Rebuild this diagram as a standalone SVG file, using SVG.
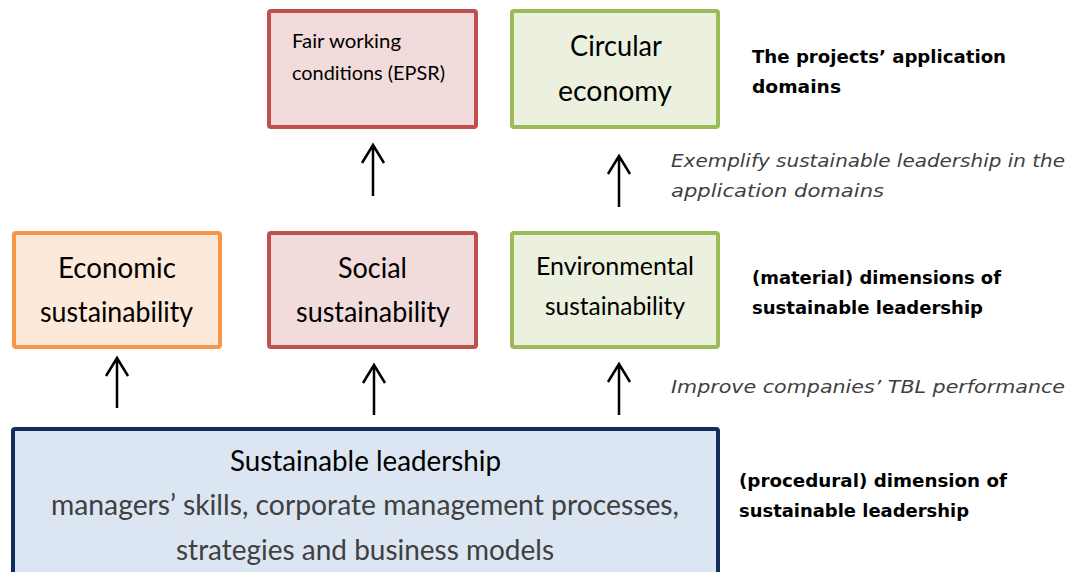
<svg xmlns="http://www.w3.org/2000/svg" width="1068" height="572" viewBox="0 0 1068 572">
  <style>
    .box { stroke-width: 4; }
    .red { fill: #f2dcdb; stroke: #c0504d; }
    .green { fill: #ebf1de; stroke: #9bbb59; }
    .orange { fill: #fde9d9; stroke: #f79646; }
    .blue { fill: #dce6f2; stroke: #132d5c; }
    .lbl { font-family: Lato, "Open Sans", "Liberation Sans", sans-serif; fill: #000; }
    .big { font-size: 28px; }
    .mid { font-size: 25px; }
    .sml { font-size: 20px; }
    .sub { fill: #404040; }
    .note { font-family: "DejaVu Sans", "Liberation Sans", sans-serif; font-size: 18px; }
    .head { font-weight: bold; fill: #000; }
    .desc { font-style: italic; fill: #404040; }
    .arrow { stroke: #000; stroke-width: 2.5; fill: none; }
  </style>

  <!-- top row: application domains -->
  <g id="fair-working">
    <rect class="box red" x="269" y="11" width="207" height="116" rx="2"/>
    <text class="lbl sml" x="292" y="48" textLength="109" lengthAdjust="spacingAndGlyphs">Fair working</text>
    <text class="lbl sml" x="292" y="80" textLength="153" lengthAdjust="spacingAndGlyphs">conditions (EPSR)</text>
  </g>
  <g id="circular-economy">
    <rect class="box green" x="512" y="11" width="206" height="116" rx="2"/>
    <text class="lbl big" x="570" y="56" textLength="92" lengthAdjust="spacingAndGlyphs">Circular</text>
    <text class="lbl big" x="558" y="101" textLength="114" lengthAdjust="spacingAndGlyphs">economy</text>
  </g>

  <!-- middle row: material dimensions -->
  <g id="economic">
    <rect class="box orange" x="14" y="233" width="206" height="114" rx="2"/>
    <text class="lbl big" x="58" y="278" textLength="118" lengthAdjust="spacingAndGlyphs">Economic</text>
    <text class="lbl big" x="40" y="322" textLength="153" lengthAdjust="spacingAndGlyphs">sustainability</text>
  </g>
  <g id="social">
    <rect class="box red" x="269" y="233" width="207" height="114" rx="2"/>
    <text class="lbl big" x="338" y="278" textLength="69" lengthAdjust="spacingAndGlyphs">Social</text>
    <text class="lbl big" x="296" y="322" textLength="154" lengthAdjust="spacingAndGlyphs">sustainability</text>
  </g>
  <g id="environmental">
    <rect class="box green" x="512" y="233" width="206" height="114" rx="2"/>
    <text class="lbl mid" x="536" y="275" textLength="158" lengthAdjust="spacingAndGlyphs">Environmental</text>
    <text class="lbl mid" x="545" y="315" textLength="140" lengthAdjust="spacingAndGlyphs">sustainability</text>
  </g>

  <!-- bottom: procedural dimension -->
  <g id="sustainable-leadership">
    <rect class="box blue" x="13" y="429" width="705" height="160" rx="2"/>
    <text class="lbl big" x="230" y="471" textLength="271" lengthAdjust="spacingAndGlyphs">Sustainable leadership</text>
    <text class="lbl big sub" x="51" y="515" textLength="628" lengthAdjust="spacingAndGlyphs">managers’ skills, corporate management processes,</text>
    <text class="lbl big sub" x="176" y="560" textLength="378" lengthAdjust="spacingAndGlyphs">strategies and business models</text>
  </g>

  <!-- side annotations -->
  <g id="notes">
    <text class="note head" x="752" y="63" textLength="254" lengthAdjust="spacingAndGlyphs">The projects’ application</text>
    <text class="note head" x="752" y="93" textLength="89" lengthAdjust="spacingAndGlyphs">domains</text>
    <text class="note desc" x="671" y="167" textLength="394" lengthAdjust="spacingAndGlyphs">Exemplify sustainable leadership in the</text>
    <text class="note desc" x="671" y="197" textLength="213" lengthAdjust="spacingAndGlyphs">application domains</text>
    <text class="note head" x="752" y="284" textLength="249" lengthAdjust="spacingAndGlyphs">(material) dimensions of</text>
    <text class="note head" x="752" y="314" textLength="231" lengthAdjust="spacingAndGlyphs">sustainable leadership</text>
    <text class="note desc" x="671" y="393" textLength="394" lengthAdjust="spacingAndGlyphs">Improve companies’ TBL performance</text>
    <text class="note head" x="739" y="487" textLength="268" lengthAdjust="spacingAndGlyphs">(procedural) dimension of</text>
    <text class="note head" x="739" y="517" textLength="230" lengthAdjust="spacingAndGlyphs">sustainable leadership</text>
  </g>

  <!-- connectors: open-headed upward arrows -->
  <g id="connectors">
    <path class="arrow" d="M373 196 V145 M362 163 L373 145 L384 163"/>
    <path class="arrow" d="M619 207 V156 M608 174 L619 156 L630 174"/>
    <path class="arrow" d="M117 408 V358 M106 376 L117 358 L128 376"/>
    <path class="arrow" d="M374 415 V365 M363 383 L374 365 L385 383"/>
    <path class="arrow" d="M619 415 V364 M608 382 L619 364 L630 382"/>
  </g>
</svg>
